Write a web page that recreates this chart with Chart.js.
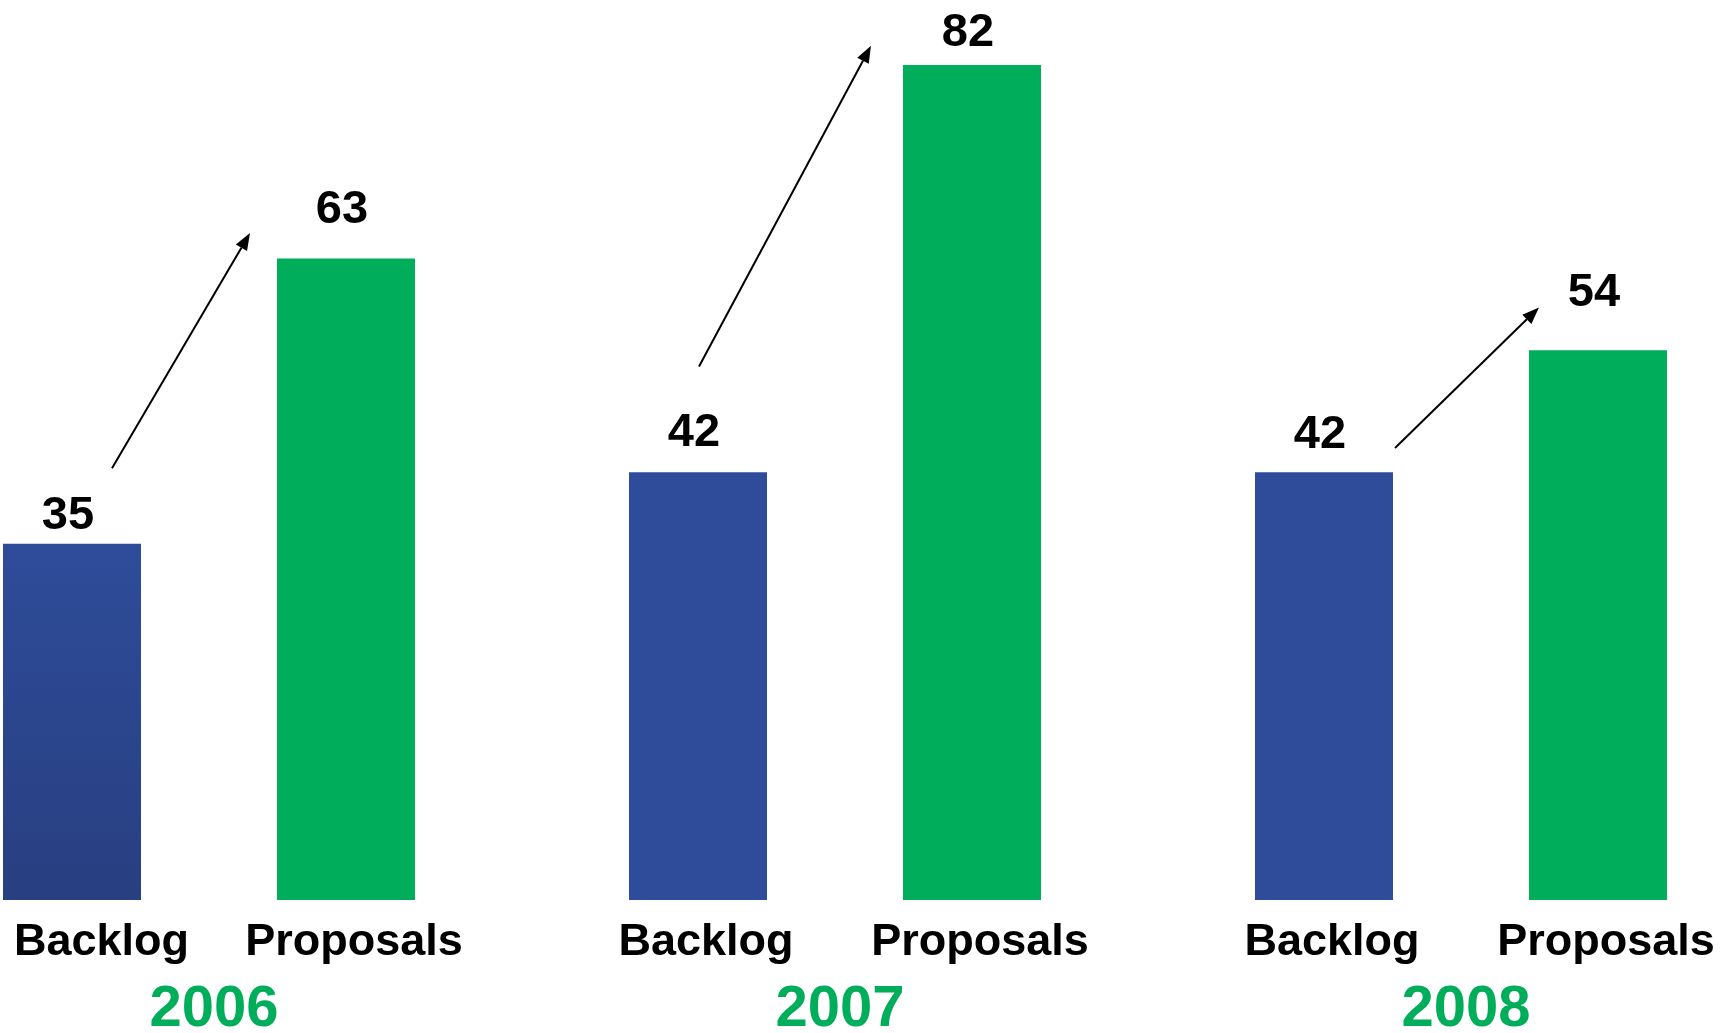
<!DOCTYPE html>
<html>
<head>
<meta charset="utf-8">
<title>Backlog vs Proposals</title>
<script src="https://cdn.jsdelivr.net/npm/chart.js@4.4.0/dist/chart.umd.min.js"></script>
<style>
  html, body { margin: 0; padding: 0; background: #fff; }
  #wrap { width: 1726px; height: 1033px; }
</style>
</head>
<body>
<div id="wrap"><canvas id="barChart" width="1726" height="1033"></canvas></div>
<script>
// datos por año
const years = ['2006', '2007', '2008'];
const seriesNames = ['Backlog', 'Proposals'];
const backlog = [35, 42, 42];
const proposals = [63, 82, 54];

const BLUE = '#2f4c9b';
const GREEN = '#00ad5a';
const FONT = '"Liberation Sans", Arial, Helvetica, sans-serif';

// la primera barra de backlog lleva un degradado vertical
function backlogColor(context) {
    const chart = context.chart;
    const yScale = chart.scales.y;
    if (context.dataIndex !== 0 || !yScale || yScale.bottom === undefined) {
        return BLUE;
    }
    const top = yScale.getPixelForValue(backlog[0]);
    const bottom = yScale.getPixelForValue(0);
    const g = chart.ctx.createLinearGradient(0, top, 0, bottom);
    g.addColorStop(0, '#2e4c9a');
    g.addColorStop(1, '#283f80');
    return g;
}

function drawArrow(ctx, x0, y0, x1, y1) {
    const ang = Math.atan2(y1 - y0, x1 - x0);
    const len = 17, half = 6.5;
    const bx = x1 - len * Math.cos(ang);
    const by = y1 - len * Math.sin(ang);
    ctx.beginPath();
    ctx.moveTo(x0, y0);
    ctx.lineTo(bx, by);
    ctx.stroke();
    ctx.beginPath();
    ctx.moveTo(x1, y1);
    ctx.lineTo(bx + half * Math.sin(ang), by - half * Math.cos(ang));
    ctx.lineTo(bx - half * Math.sin(ang), by + half * Math.cos(ang));
    ctx.closePath();
    ctx.fill();
}

// valores, nombres de serie, años y flechas
const barLabels = {
    id: 'barLabels',
    afterDatasetsDraw(chart, args, opts) {
        const ctx = chart.ctx;
        const xScale = chart.scales.x;
        const yScale = chart.scales.y;
        ctx.save();
        ctx.textAlign = 'center';
        ctx.textBaseline = 'alphabetic';
        ctx.fillStyle = '#000';

        chart.data.datasets.forEach((ds, di) => {
            const meta = chart.getDatasetMeta(di);
            meta.data.forEach((bar, i) => {
                ctx.font = 'bold 47px ' + FONT;
                ctx.fillText(String(ds.data[i]), bar.x - 4, bar.y - opts.valueLift[di][i]);
                ctx.font = 'bold 45px ' + FONT;
                // que el texto no se salga del lienzo por la izquierda
                const half = ctx.measureText(ds.label).width / 2;
                const lx = Math.max(bar.x + 8, half + 14);
                ctx.fillText(ds.label, lx, yScale.bottom + 55);
            });
        });

        ctx.font = 'bold 58px ' + FONT;
        ctx.fillStyle = GREEN;
        years.forEach((y, i) => {
            ctx.fillText(y, xScale.getPixelForTick(i) + 5, yScale.bottom + 126);
        });

        ctx.strokeStyle = '#000';
        ctx.fillStyle = '#000';
        ctx.lineWidth = 2;
        opts.arrows.forEach((a, i) => {
            const cx = xScale.getPixelForTick(i);
            drawArrow(ctx,
                cx + a.from[0], yScale.getPixelForValue(a.from[1]),
                cx + a.to[0], yScale.getPixelForValue(a.to[1]));
        });
        ctx.restore();
    }
};

new Chart(document.getElementById('barChart'), {
    type: 'bar',
    data: {
        labels: years,
        datasets: [
            {
                label: seriesNames[0],
                data: backlog,
                backgroundColor: backlogColor,
                categoryPercentage: 0.8754,
                barPercentage: 0.5036,
                clip: false
            },
            {
                label: seriesNames[1],
                data: proposals,
                backgroundColor: GREEN,
                categoryPercentage: 0.8754,
                barPercentage: 0.5036,
                clip: false
            }
        ]
    },
    options: {
        responsive: false,
        animation: false,
        layout: {
            padding: { left: 209, right: 265, top: 4, bottom: 133 }
        },
        scales: {
            x: {
                type: 'category',
                offset: false,
                display: false,
                grid: { display: false }
            },
            y: {
                min: 0,
                max: 88,
                display: false,
                grid: { display: false }
            }
        },
        plugins: {
            legend: { display: false },
            tooltip: { enabled: false },
            barLabels: {
                valueLift: [[15, 26, 24], [36, 19, 44]],
                // desplazamiento x desde el centro del grupo, y en unidades del eje
                arrows: [
                    { from: [-97, 42.4], to: [41, 65.5] },
                    { from: [-136, 52.4], to: [36, 83.9] },
                    { from: [-66, 44.4], to: [78, 58.2] }
                ]
            }
        }
    },
    plugins: [barLabels]
});
</script>
</body>
</html>
